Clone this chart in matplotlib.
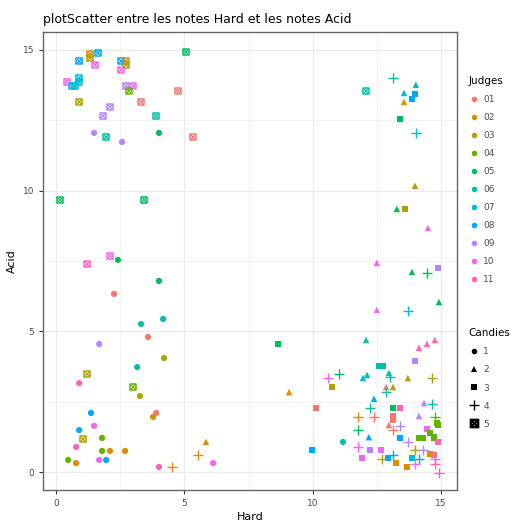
import matplotlib
matplotlib.use("Agg")
import matplotlib.pyplot as plt
from matplotlib.lines import Line2D

# ggplot default hue palette for 11 judges
JUDGE_COLORS = ["#F8766D", "#DB8E00", "#AEA200", "#64B200", "#00BD5C", "#00C1A7",
                "#00BADE", "#00A6FF", "#B385FF", "#EF67EB", "#FF63B6"]
JUDGE_LABELS = ["01", "02", "03", "04", "05", "06", "07", "08", "09", "10", "11"]
CANDY_LABELS = ["1", "2", "3", "4", "5"]

# candy 1
c1_hard = [1.48, 2.57, 4.01, 2.41, 4.01, 2.26, 3.31, 4.17, 3.58, 1.68, 4.21, 3.16, 0.9, 3.27,
           1.36, 3.9, 3.78, 1.48, 0.9, 1.79, 0.78, 1.79, 2.1, 2.69, 0.47, 0.78, 1.68, 1.95,
           4.01, 6.12, 11.18]
c1_acid = [12.05, 11.73, 12.05, 7.54, 6.79, 6.33, 5.26, 5.44, 4.8, 4.55, 4.05, 3.73, 3.16, 2.7,
           2.1, 2.1, 1.96, 1.64, 1.49, 1.21, 0.89, 0.75, 0.75, 0.75, 0.43, 0.32, 0.43, 0.43,
           0.18, 0.32, 1.07]
c1_judge = [9, 9, 5, 5, 5, 1, 6, 6, 1, 9, 3, 6, 11, 3, 8, 1, 2, 10, 8, 4, 11, 4, 2, 2, 4, 2,
            10, 8, 11, 10, 6]

# candy 2
c2_hard = [14.02, 13.56, 13.56, 13.99, 13.28, 12.5, 13.87, 14.92, 12.5, 14.49, 12.08, 14.14,
           14.45, 14.76, 9.08, 12.12, 11.96, 12.97, 13.71, 13.13, 12.86, 12.39, 12.19, 14.14,
           14.34, 12.97, 5.84, 14.72]
c2_acid = [13.76, 13.47, 13.15, 10.17, 9.35, 7.43, 7.11, 6.04, 5.76, 8.67, 4.69, 4.41, 4.55,
           4.69, 2.84, 3.45, 3.34, 3.52, 3.34, 3.02, 3.02, 2.6, 1.24, 1.99, 2.45, 1.67, 1.07,
           1.21]
c2_judge = [7, 7, 2, 3, 5, 10, 5, 5, 10, 10, 6, 11, 11, 11, 2, 6, 7, 6, 3, 3, 1, 8, 8, 9, 9,
            1, 2, 4]

# candy 3
c3_hard = [13.99, 13.87, 13.4, 13.6, 14.88, 8.65, 12.58, 12.74, 13.99, 10.75, 10.13, 13.13,
           13.4, 13.13, 13.13, 13.4, 14.14, 14.3, 14.45, 14.57, 14.72, 14.84, 14.88, 14.88,
           12.23, 12.66, 11.92, 9.97, 12.93, 13.25, 13.67, 13.87, 14.57, 14.72]
c3_acid = [13.44, 13.26, 12.55, 9.35, 7.25, 4.55, 3.77, 3.77, 3.95, 3.02, 2.28, 2.28, 2.28,
           2.0, 1.85, 1.21, 1.21, 1.21, 1.53, 1.39, 1.24, 1.74, 1.67, 1.07, 0.78, 0.78, 0.5,
           0.78, 0.5, 0.32, 0.18, 0.5, 0.64, 0.6]
c3_judge = [8, 8, 5, 3, 9, 5, 6, 6, 9, 3, 1, 5, 11, 1, 1, 8, 4, 4, 10, 4, 4, 4, 4, 11, 9, 10,
            10, 8, 8, 2, 2, 7, 2, 1]

# candy 4
c4_hard = [4.52, 5.53, 13.13, 14.02, 14.45, 13.71, 10.6, 11.02, 13.01, 12.86, 14.65, 14.65,
           12.23, 11.76, 12.39, 11.76, 13.13, 13.71, 11.76, 13.99, 14.3, 13.13, 12.7, 14.14,
           13.99, 14.76, 14.76, 14.92, 14.76, 13.4]
c4_acid = [0.18, 0.6, 14.0, 12.05, 7.07, 5.72, 3.34, 3.48, 3.38, 2.84, 3.34, 2.42, 2.28,
           1.96, 1.96, 1.49, 1.49, 1.07, 0.89, 0.78, 0.78, 0.6, 0.46, 0.46, 0.28, 0.46, 0.28,
           -0.03, 1.96, 1.64]
c4_judge = [2, 2, 6, 7, 5, 7, 10, 5, 6, 6, 3, 6, 6, 2, 1, 5, 1, 9, 10, 3, 9, 8, 3, 8, 10, 10,
            11, 11, 4, 9]

# candy 5
c5_hard = [1.32, 1.32, 1.63, 0.9, 1.52, 2.53, 2.73, 2.73, 2.53, 0.9, 0.43, 0.62, 0.74, 0.9,
           2.73, 3.0, 2.84, 0.9, 2.1, 3.31, 4.75, 1.83, 3.9, 1.95, 5.34, 5.06, 0.16, 3.43,
           1.21, 2.1, 1.21, 3.0, 1.05, 12.08]
c5_acid = [14.86, 14.72, 14.9, 14.6, 14.47, 14.6, 14.6, 14.47, 14.29, 14.0, 13.86, 13.72,
           13.72, 13.86, 13.72, 13.72, 13.54, 13.15, 12.98, 13.15, 13.54, 12.66, 12.66, 11.9,
           11.9, 14.93, 9.67, 9.67, 7.39, 7.68, 3.48, 3.02, 1.17, 13.54]
c5_judge = [2, 3, 8, 8, 10, 8, 2, 3, 10, 7, 10, 7, 7, 7, 9, 10, 4, 3, 9, 1, 1, 9, 6, 6, 1, 5,
            5, 5, 11, 10, 3, 4, 3, 6]

fig = plt.figure(figsize=(5.18, 5.23), dpi=100)
ax = fig.add_axes([0.083, 0.063, 0.799, 0.876])


def colors_for(judges):
    return [JUDGE_COLORS[j - 1] for j in judges]


ax.scatter(c1_hard, c1_acid, c=colors_for(c1_judge), marker="o", s=20, linewidths=0, zorder=3)
ax.scatter(c2_hard, c2_acid, c=colors_for(c2_judge), marker="^", s=22, linewidths=0, zorder=3)
ax.scatter(c3_hard, c3_acid, c=colors_for(c3_judge), marker="s", s=20, linewidths=0, zorder=3)
ax.scatter(c4_hard, c4_acid, c=colors_for(c4_judge), marker="+", s=55, linewidths=1.0, zorder=3)
# shape 7: square with a cross
ax.scatter(c5_hard, c5_acid, facecolors="none", edgecolors=colors_for(c5_judge), marker="s",
           s=20, linewidths=1.1, zorder=3)
ax.scatter(c5_hard, c5_acid, c=colors_for(c5_judge), marker="x", s=9, linewidths=0.9, zorder=3)

ax.set_xlim(-0.51, 15.62)
ax.set_ylim(-0.64, 15.64)
ax.set_xticks([0, 5, 10, 15])
ax.set_yticks([0, 5, 10, 15])
ax.set_xticks([2.5, 7.5, 12.5], minor=True)
ax.set_yticks([2.5, 7.5, 12.5], minor=True)
ax.grid(True, which="major", color="#ebebeb", linewidth=0.9, zorder=0)
ax.grid(True, which="minor", color="#f2f2f2", linewidth=0.8, zorder=0)
ax.set_axisbelow(True)
ax.tick_params(which="major", labelsize=6.5, labelcolor="#4d4d4d", color="#333333", length=3)
ax.tick_params(which="minor", length=0)
for sp in ax.spines.values():
    sp.set_color("#666666")
    sp.set_linewidth(1.0)

ax.set_xlabel("Hard", fontsize=8, labelpad=3)
ax.set_ylabel("Acid", fontsize=8, labelpad=4)
fig.text(0.083, 0.962, "plotScatter entre les notes Hard et les notes Acid", fontsize=9,
         ha="left", va="center")

judge_handles = [Line2D([], [], linestyle="none", marker="o", markersize=4, color=c,
                        markeredgewidth=0) for c in JUDGE_COLORS]
leg1 = fig.legend(judge_handles, JUDGE_LABELS, title="Judges", loc="upper left",
                  bbox_to_anchor=(0.905, 0.855), frameon=False, fontsize=6.5,
                  title_fontsize=7.5, labelspacing=1.0, handletextpad=0.4, handlelength=1.2,
                  borderaxespad=0, borderpad=0)
leg1._legend_box.align = "left"
for t in leg1.get_texts():
    t.set_color("#4d4d4d")

candy_handles = [
    Line2D([], [], linestyle="none", marker="o", markersize=4, color="black", markeredgewidth=0),
    Line2D([], [], linestyle="none", marker="^", markersize=4.5, color="black", markeredgewidth=0),
    Line2D([], [], linestyle="none", marker="s", markersize=4, color="black", markeredgewidth=0),
    Line2D([], [], linestyle="none", marker="+", markersize=7, color="black", markeredgewidth=1.0),
    Line2D([], [], linestyle="none", marker="$\u22a0$", markersize=6, color="black"),
]
leg2 = fig.legend(candy_handles, CANDY_LABELS, title="Candies", loc="upper left",
                  bbox_to_anchor=(0.905, 0.372), frameon=False, fontsize=6.5,
                  title_fontsize=7.5, labelspacing=1.0, handletextpad=0.4, handlelength=1.2,
                  borderaxespad=0, borderpad=0)
leg2._legend_box.align = "left"
for t in leg2.get_texts():
    t.set_color("#4d4d4d")

fig.savefig("out.png", dpi=100)
plt.close(fig)
